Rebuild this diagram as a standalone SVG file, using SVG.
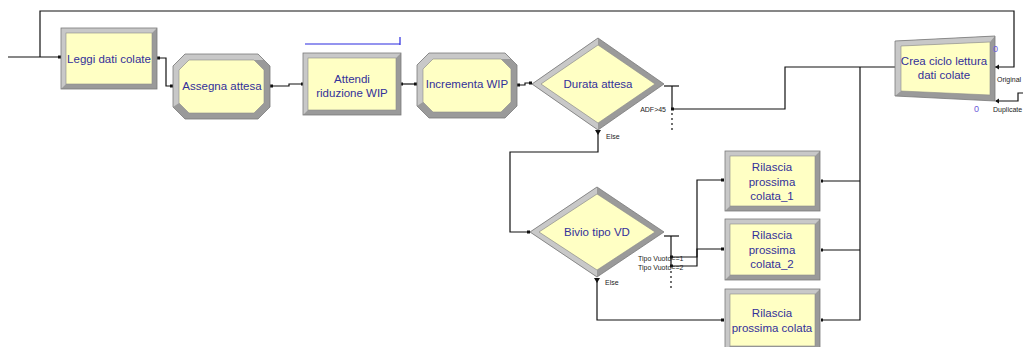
<svg xmlns="http://www.w3.org/2000/svg" width="1023" height="347" viewBox="0 0 1023 347">
  <style>
    .lt { fill: #c8c8c8; }
    .dk { fill: #9a9a9a; }
    .edge { fill: none; stroke: #7a7a7a; stroke-width: 0.8; }
    .face { fill: #ffffc4; stroke: #8a8a8a; stroke-width: 0.6; }
    .lbl { font-family: "Liberation Sans", Arial, sans-serif; font-size: 11.5px; fill: #33309a; text-anchor: middle; }
    .small { font-family: "Liberation Sans", Arial, sans-serif; font-size: 7px; fill: #222222; }
    .cnt { font-family: "Liberation Sans", Arial, sans-serif; font-size: 9px; fill: #6a5ad8; }
    .wire { fill: none; stroke: #111111; stroke-width: 1.2; }
    .dots { fill: none; stroke: #111111; stroke-width: 1.2; stroke-dasharray: 2 3; }
    .port { fill: #111111; }
  </style>

  <rect x="0" y="0" width="1023" height="347" fill="#ffffff"/>

  <!-- connectors -->
  <g id="connectors">
    <polyline class="wire" points="8,57 60,57"/>
    <polyline class="wire" points="995,67 1014,67 1014,11 40,11 40,57"/>
    <polyline class="wire" points="158,58 166,58 166,86 173,86"/>
    <polyline class="wire" points="271,86 289,86 289,84 303,84"/>
    <polyline class="wire" points="401,84 417,84"/>
    <polyline class="wire" points="518,85 525,85 525,83 532,83"/>
    <!-- Durata attesa exits -->
    <polyline class="wire" points="664,86 679,86"/>
    <polyline class="wire" points="672,86 672,109"/>
    <polyline class="dots" points="672,113 672,133"/>
    <polyline class="wire" points="672,109 785,109 785,67 895,67"/>
    <polyline class="wire" points="598,131 598,152 510,152 510,232 530,232"/>
    <!-- Bivio tipo VD exits -->
    <polyline class="wire" points="664,236 679,236"/>
    <polyline class="wire" points="671,236 671,267"/>
    <polyline class="dots" points="671,271 671,290"/>
    <polyline class="wire" points="671,257 697,257 697,180 724,180"/>
    <polyline class="wire" points="671,266 697,266 697,249 724,249"/>
    <polyline class="wire" points="597,279 597,320 724,320"/>
    <!-- Rilascia outputs join back -->
    <polyline class="wire" points="821,181 860,181"/>
    <polyline class="wire" points="821,250 860,250"/>
    <polyline class="wire" points="821,320 860,320 860,67"/>
    <!-- Duplicate exit -->
    <polyline class="wire" points="996,101 1018,101 1018,93 1023,93"/>

    <!-- ports -->
    <rect class="port" x="58" y="55.5" width="3" height="3"/>
    <rect class="port" x="157" y="56.5" width="3" height="3"/>
    <rect class="port" x="170" y="84.5" width="3" height="3"/>
    <rect class="port" x="270" y="84.5" width="3" height="3"/>
    <rect class="port" x="301" y="82.5" width="2" height="3"/>
    <rect class="port" x="401" y="82.5" width="2" height="3"/>
    <rect class="port" x="414" y="82.5" width="3" height="3"/>
    <rect class="port" x="517" y="83.5" width="3" height="3"/>
    <rect class="port" x="529" y="81.5" width="3" height="3"/>
    <rect class="port" x="671" y="107.5" width="3" height="3"/>
    <rect class="port" x="527" y="230.5" width="3" height="3"/>
    <rect class="port" x="670" y="255.5" width="3" height="3"/>
    <rect class="port" x="670" y="264.5" width="3" height="3"/>
    <rect class="port" x="721" y="178.5" width="3" height="3"/>
    <rect class="port" x="721" y="247.5" width="3" height="3"/>
    <rect class="port" x="721" y="318.5" width="3" height="3"/>
    <rect class="port" x="821" y="179.5" width="2" height="3"/>
    <rect class="port" x="821" y="248.5" width="2" height="3"/>
    <rect class="port" x="821" y="318.5" width="2" height="3"/>
    <polygon class="port" points="595,130 601,130 598,135"/>
    <polygon class="port" points="594,278 600,278 597,283"/>
    <polygon class="port" points="995,67 999,64.5 999,69.5"/>
    <polygon class="port" points="995,101 999,98.5 999,103.5"/>

    <!-- exit labels -->
    <text class="small" x="666" y="112" text-anchor="end">ADF&gt;45</text>
    <text class="small" x="606" y="139">Else</text>
    <text class="small" x="638" y="261">Tipo Vuoto==1</text>
    <text class="small" x="638" y="270">Tipo Vuoto==2</text>
    <text class="small" x="605" y="285">Else</text>
    <text class="small" x="997" y="82">Original</text>
    <text class="small" x="993" y="112">Duplicate</text>
  </g>

  <!-- Read module -->
  <g id="leggi">
    <rect class="dk" x="61" y="28" width="96" height="61"/>
    <polygon class="lt" points="61,28 157,28 152,33 66,33 66,84 61,89"/>
    <rect class="edge" x="61" y="28" width="96" height="61"/>
    <rect class="face" x="66" y="33" width="86" height="51"/>
    <text class="lbl" x="109" y="63">Leggi dati colate</text>
  </g>

  <!-- Assign module -->
  <g id="assegna">
    <polygon class="dk" points="185,54 258,54 270,66 270,107 258,119 185,119 173,107 173,66"/>
    <polygon class="lt" points="173,107 173,66 185,54 258,54 264,60 254,60 189,60 179,70 179,103"/>
    <polygon class="edge" points="185,54 258,54 270,66 270,107 258,119 185,119 173,107 173,66"/>
    <polygon class="face" points="189,60 254,60 264,70 264,103 254,113 189,113 179,103 179,70"/>
    <text class="lbl" x="222" y="90">Assegna attesa</text>
  </g>

  <!-- Hold module -->
  <g id="attendi">
    <polyline points="305,44 400,44" fill="none" stroke="#2a2ae0" stroke-width="1.2"/>
    <polyline points="400,37 400,45" fill="none" stroke="#2a2ae0" stroke-width="1.2"/>
    <rect class="dk" x="303" y="53" width="98" height="62"/>
    <polygon class="lt" points="303,53 401,53 396,58 308,58 308,110 303,115"/>
    <rect class="edge" x="303" y="53" width="98" height="62"/>
    <rect class="face" x="308" y="58" width="88" height="52"/>
    <text class="lbl" x="352" y="83">Attendi</text>
    <text class="lbl" x="352" y="97">riduzione WIP</text>
  </g>

  <!-- Assign module -->
  <g id="incrementa">
    <polygon class="dk" points="429,53 505,53 517,65 517,106 505,118 429,118 417,106 417,65"/>
    <polygon class="lt" points="417,106 417,65 429,53 505,53 511,59 501,59 433,59 423,69 423,102"/>
    <polygon class="edge" points="429,53 505,53 517,65 517,106 505,118 429,118 417,106 417,65"/>
    <polygon class="face" points="433,59 501,59 511,69 511,102 501,112 433,112 423,102 423,69"/>
    <text class="lbl" x="467" y="88">Incrementa WIP</text>
  </g>

  <!-- Decide module -->
  <g id="durata">
    <polygon class="dk" points="532,84 598,38 664,84 598,130"/>
    <polygon class="lt" points="598,130 532,84 598,38 598,45 541,84 598,123"/>
    <polygon class="edge" points="532,84 598,38 664,84 598,130"/>
    <polygon class="face" points="541,84 598,45 655,84 598,123"/>
    <text class="lbl" x="598" y="88">Durata attesa</text>
  </g>

  <!-- Decide module -->
  <g id="bivio">
    <polygon class="dk" points="530,232 597,187 664,232 597,277"/>
    <polygon class="lt" points="597,277 530,232 597,187 597,194 539,232 597,270"/>
    <polygon class="edge" points="530,232 597,187 664,232 597,277"/>
    <polygon class="face" points="539,232 597,194 655,232 597,270"/>
    <text class="lbl" x="597" y="236">Bivio tipo VD</text>
  </g>

  <!-- Release modules -->
  <g id="rilascia1">
    <rect class="dk" x="725" y="151" width="95" height="60"/>
    <polygon class="lt" points="725,151 820,151 815,156 730,156 730,206 725,211"/>
    <rect class="edge" x="725" y="151" width="95" height="60"/>
    <rect class="face" x="730" y="156" width="85" height="50"/>
    <text class="lbl" x="772" y="171">Rilascia</text>
    <text class="lbl" x="772" y="185.5">prossima</text>
    <text class="lbl" x="772" y="200">colata_1</text>
  </g>

  <g id="rilascia2">
    <rect class="dk" x="725" y="219" width="95" height="61"/>
    <polygon class="lt" points="725,219 820,219 815,224 730,224 730,275 725,280"/>
    <rect class="edge" x="725" y="219" width="95" height="61"/>
    <rect class="face" x="730" y="224" width="85" height="51"/>
    <text class="lbl" x="772" y="239">Rilascia</text>
    <text class="lbl" x="772" y="253.5">prossima</text>
    <text class="lbl" x="772" y="268">colata_2</text>
  </g>

  <g id="rilascia3">
    <rect class="dk" x="725" y="289" width="95" height="62"/>
    <polygon class="lt" points="725,289 820,289 815,294 730,294 730,346 725,351"/>
    <rect class="edge" x="725" y="289" width="95" height="62"/>
    <rect class="face" x="730" y="294" width="85" height="52"/>
    <text class="lbl" x="772" y="317">Rilascia</text>
    <text class="lbl" x="772" y="331.5">prossima colata</text>
  </g>

  <!-- Separate module -->
  <g id="crea">
    <polygon class="dk" points="895,41 995,36 995,101 895,96"/>
    <polygon class="lt" points="895,96 895,41 995,36 990,42 901,46 901,91"/>
    <polygon class="edge" points="895,41 995,36 995,101 895,96"/>
    <polygon class="face" points="901,46 990,42 990,95 901,91"/>
    <text class="lbl" x="944" y="65">Crea ciclo lettura</text>
    <text class="lbl" x="944" y="79">dati colate</text>
    <text class="cnt" x="993" y="52">0</text>
    <text class="cnt" x="974" y="112">0</text>
  </g>
</svg>
